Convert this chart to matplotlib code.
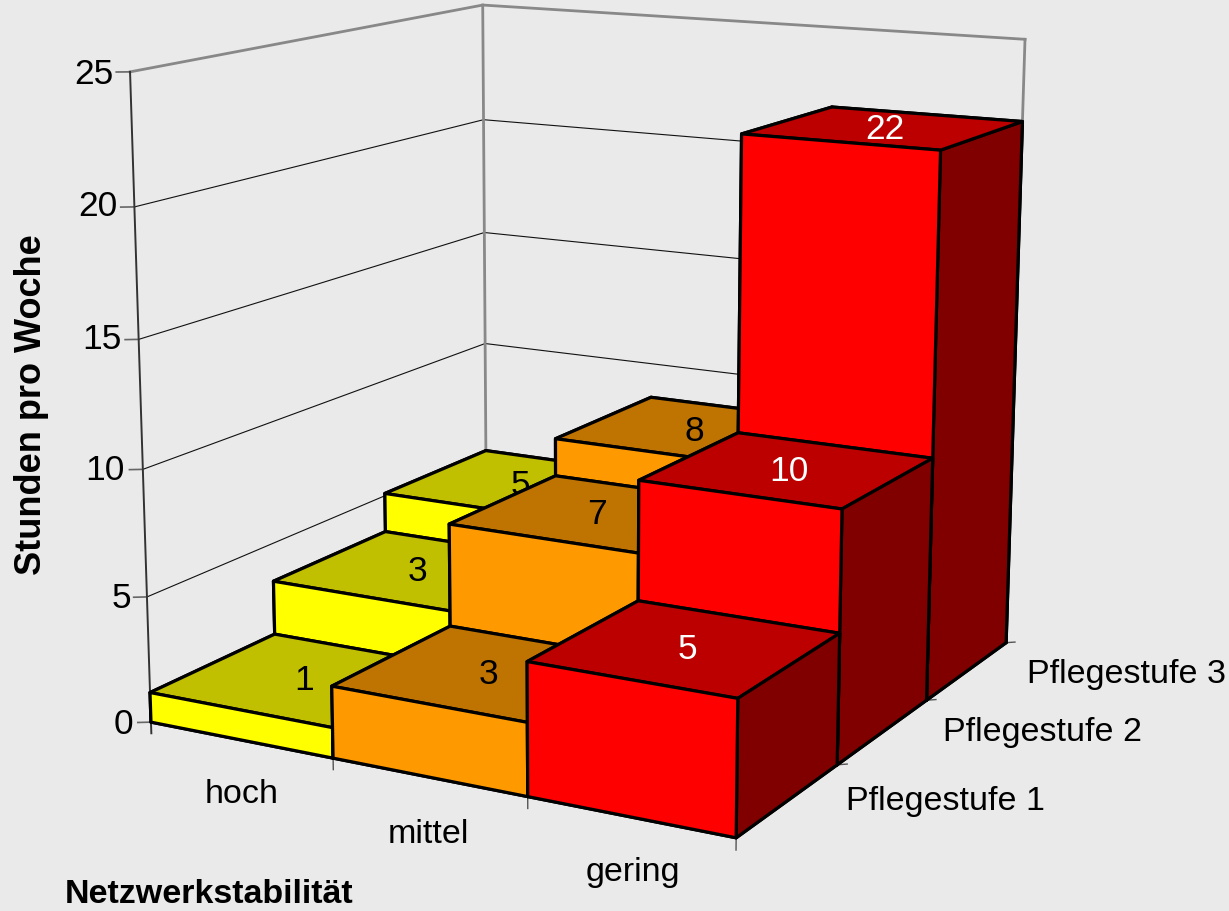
import matplotlib
matplotlib.use('Agg')
import matplotlib.pyplot as plt
from mpl_toolkits.mplot3d import proj3d

# Data (the bars are a bit off the rounded labels)
categories = ['hoch', 'mittel', 'gering']
levels = ['Pflegestufe 1', 'Pflegestufe 2', 'Pflegestufe 3']
hoch = [1.19, 3.42, 5.10]
mittel = [2.80, 6.94, 8.51]
gering = [5.07, 9.77, 21.72]
hoch_labels = ['1', '3', '5']
mittel_labels = ['3', '7', '8']
gering_labels = ['5', '10', '22']
z_ticks = [0, 5, 10, 15, 20, 25]

# Colours per category
front_cols = ['#FFFF00', '#FF9900', '#FF0000']
top_cols = ['#C0C000', '#BF7300', '#BC0000']
side_col = '#800000'
text_cols = ['black', 'black', 'white']

W, H = 1229, 912
plt.rcParams['font.family'] = ['Liberation Sans', 'DejaVu Sans']
fig = plt.figure(figsize=(W / 100, H / 100), dpi=100, facecolor='#EAEAEA')
ax = fig.add_subplot(projection='3d', computed_zorder=False)
ax.set_xlim(0, 3)
ax.set_ylim(0, 3)
ax.set_zlim(0, 25)

# Camera, fitted against the corners of the reference
ax.view_init(12.983, -61.210, -0.050)
ax.set_proj_type('persp', focal_length=0.5435)
ax.set_box_aspect((0.9990, 1.0061, 1))

# Place the square axes so that one projected unit is 5845 px
s, cx, cy = 5845.192, 595.310, 376.003
vl = ax.viewLim
L = s * (vl.x1 - vl.x0)
left = cx + s * vl.x0
bottom = cy - s * vl.y0
ax.set_position([left / W, 1 - bottom / H, L / W, L / H])
ax.set_axis_off()
ax.patch.set_alpha(0)

# Walls, gridlines and ticks
for z in z_ticks:
    col, lw = ('#888888', 2.0) if z == 25 else ('#111111', 0.8)
    ax.plot([0, 0, 3], [0, 3, 3], [z, z, z], color=col, lw=lw, zorder=1)
    ax.plot([0, -0.05], [0, -0.033], [z, z], color='#666666', lw=1.2, zorder=1)
ax.plot([0, 0], [0, 0], [-0.45, 25], color='#333333', lw=1.4, zorder=1)
ax.plot([0, 0], [3, 3], [0, 25], color='#888888', lw=2, zorder=1)
ax.plot([3, 3], [3, 3], [0, 25], color='#888888', lw=2, zorder=1)
for k in range(1, 4):
    ax.plot([k, k], [0, 0], [0, -0.45], color='#555555', lw=1, zorder=1)
    ax.plot([3, 3.035], [k, k + 0.03], [0, 0], color='#555555', lw=1, zorder=1)

# Bars, back to front
series = [hoch, mittel, gering]
bar_labels = [hoch_labels, mittel_labels, gering_labels]
M = ax.get_proj()
zo = 2
for i in range(3):
    for j in [2, 1, 0]:
        h = series[i][j]
        ax.bar3d(i, j, 0, 1, 1, h, shade=False,
                 color=[front_cols[i], top_cols[i], front_cols[i], front_cols[i], front_cols[i], side_col],
                 edgecolor='black', linewidth=2.3, zorder=zo)
        u, v, _ = proj3d.proj_transform(i + 0.5, j + 0.5, h, M)
        ax.annotate(bar_labels[i][j], (u, v), xytext=(1.5, -1), textcoords='offset pixels',
                    color=text_cols[i], fontsize=25.5, ha='center', va='center', zorder=zo + 0.5)
        zo += 1
ax.set_xlim(0, 3)
ax.set_ylim(0, 3)
ax.set_zlim(0, 25)


def label(x, y, text, size=24.5, **kw):
    fig.text(x / W, 1 - (y + 3) / H, text, va='center', fontsize=size, **kw)


for z, x, y in zip(z_ticks, [133, 131, 125, 122, 117, 114], [721, 596, 468, 337, 204, 71]):
    label(x, y, str(z), size=25.5, ha='right')
for name, x, y in zip(categories, [242, 428, 633], [792, 832, 870]):
    label(x, y, name, ha='center')
for name, x, y in zip(levels, [846, 943, 1027], [799, 729, 672]):
    label(x, y, name, ha='left')
label(32, 402, 'Stunden pro Woche', size=26, ha='center', rotation=90, fontweight='bold')
label(65, 892, 'Netzwerkstabilität', ha='left', fontweight='bold')

fig.savefig('out.png', facecolor=fig.get_facecolor())
